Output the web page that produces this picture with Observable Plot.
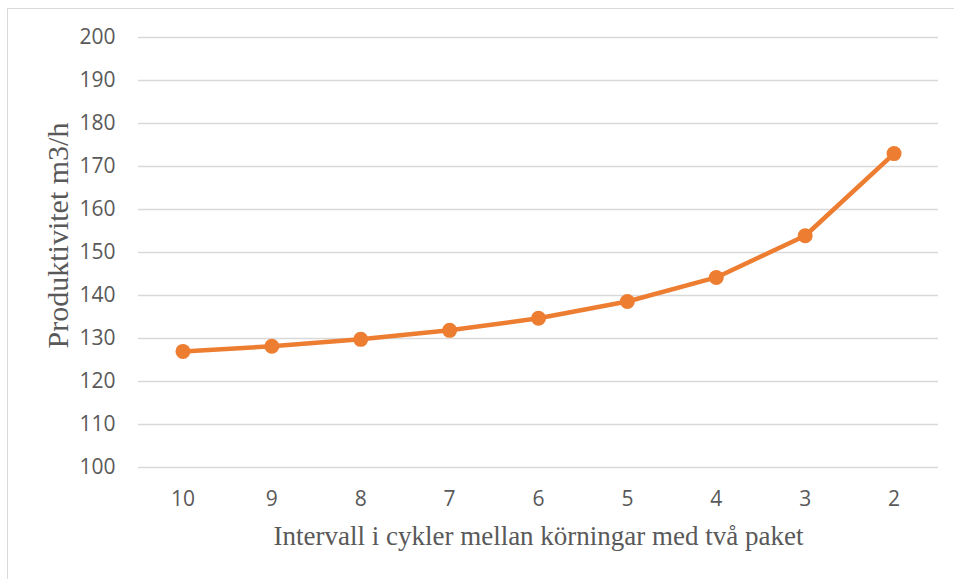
<!DOCTYPE html>
<html>
<head>
<meta charset="utf-8">
<script src="https://cdn.jsdelivr.net/npm/d3@7"></script>
<script src="https://cdn.jsdelivr.net/npm/@observablehq/plot@0.6"></script>
<style>
  html, body { margin: 0; padding: 0; background: #fff; }
  #wrap { position: relative; width: 954px; height: 579px; overflow: hidden; }
  #frame { position: absolute; left: 7px; top: 8px; width: 960px; height: 600px;
           border-top: 1.5px solid #d9d9d9; border-left: 1.5px solid #d9d9d9; }
  #chart { position: absolute; left: 0; top: 0; }
</style>
</head>
<body>
<div id="wrap"><div id="frame"></div><div id="chart"></div></div>
<script>
const categories = ["10", "9", "8", "7", "6", "5", "4", "3", "2"];
const values = [127.0, 128.2, 129.8, 131.9, 134.7, 138.6, 144.2, 153.9, 173.0];
const yTicks = [100, 110, 120, 130, 140, 150, 160, 170, 180, 190, 200];
const xTitle = "Intervall i cykler mellan körningar med två paket";
const yTitle = "Produktivitet m3/h";

const data = categories.map((c, i) => ({cat: c, value: values[i]}));
const color = "#ED7D31";

const chart = Plot.plot({
  width: 954,
  height: 579,
  marginLeft: 138,
  marginRight: 16,
  marginTop: 37,
  marginBottom: 112,
  style: {background: "transparent", overflow: "visible"},
  x: {type: "point", domain: categories, padding: 0.5, round: false, label: null},
  y: {domain: [100, 200], ticks: yTicks, label: null},
  marks: [
    Plot.gridY(yTicks, {stroke: "#d9d9d9", strokeOpacity: 1, strokeWidth: 1.5}),
    Plot.axisY(yTicks, {tickSize: 0, tickPadding: 23, fontSize: 21, fill: "#595959",
      fontFamily: "'Open Sans', sans-serif", label: null}),
    Plot.axisX(categories, {tickSize: 0, tickPadding: 24, fontSize: 21, fill: "#595959",
      fontFamily: "'Open Sans', sans-serif", label: null}),
    Plot.line(data, {x: "cat", y: "value", stroke: color, strokeWidth: 4.5, curve: "linear"}),
    Plot.dot(data, {x: "cat", y: "value", r: 7.5, fill: color, stroke: "none"}),
    Plot.text([xTitle], {frameAnchor: "bottom", dy: 77, fontSize: 27, fill: "#595959",
      fontFamily: "'Liberation Serif', 'Times New Roman', serif"}),
    Plot.text([yTitle], {frameAnchor: "left", dx: -80, dy: -17, rotate: -90, textAnchor: "middle",
      fontSize: 30, fill: "#595959",
      fontFamily: "'Liberation Serif', 'Times New Roman', serif"})
  ]
});
document.getElementById("chart").appendChild(chart);
</script>
</body>
</html>
